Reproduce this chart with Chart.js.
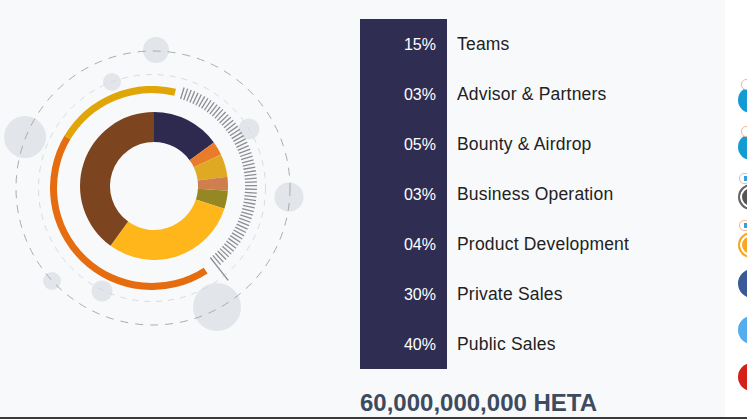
<!DOCTYPE html>
<html lang="en">
<head>
<meta charset="UTF-8">
<title>Token Allocation</title>
<script src="https://cdn.jsdelivr.net/npm/chart.js"></script>
<style>
  html, body { margin: 0; padding: 0; width: 747px; height: 419px; overflow: hidden; background: #fff; }
  #panel { position: absolute; left: 0; top: 0; width: 725px; height: 419px; background: #f8f9fb; }
  #baseline { position: absolute; left: 0; top: 417px; width: 747px; height: 2px; background: #3a3a3a; }
  canvas { position: absolute; }
  #table { position: absolute; left: 360px; top: 19px; width: 360px; font-family: "Liberation Sans", Arial, sans-serif; }
  .row { display: flex; height: 50px; line-height: 50px; }
  .pct { width: 76px; height: 50px; padding-right: 11px; text-align: right; background: #2f2e52; color: #fff; font-size: 16px; line-height: 52px; }
  .name { padding-left: 10px; color: #222; font-size: 17.5px; letter-spacing: .2px; }
  #total { position: absolute; left: 360px; top: 389px; font: bold 24px/28px "Liberation Sans", Arial, sans-serif; color: #3d4b5e; white-space: nowrap; }
  .icon { position: absolute; left: 738px; box-sizing: border-box; border-radius: 50%; }
  .badge { position: absolute; width: 20px; height: 11px; box-sizing: border-box; background: #fff; border: 1px solid #f5b79a; border-radius: 5px; }
  .badge i { position: absolute; left: 4px; top: 2px; width: 4px; height: 5px; background: #3aa0dc; }
</style>
</head>
<body>
<div id="panel"></div>
<canvas id="backdrop" width="330" height="340" style="left:0;top:0"></canvas>
<canvas id="ring" width="204" height="204" style="left:50px;top:86px"></canvas>
<canvas id="donut" width="148" height="148" style="left:80px;top:112px"></canvas>
<div id="table"></div>
<div id="total"></div>
<div id="icons"></div>
<div id="baseline"></div>

<script>
const categories = ['Teams', 'Advisor & Partners', 'Bounty & Airdrop', 'Business Operation', 'Product Development', 'Private Sales', 'Public Sales'];
const shares = [15, 3, 5, 3, 4, 30, 40];
const shareLabels = ['15%', '03%', '05%', '03%', '04%', '30%', '40%'];
const sliceColors = ['#2e2a4f', '#e97c2a', '#e0a923', '#cf7f4e', '#958723', '#ffb61a', '#7d451f'];
const totalLabel = '60,000,000,000 HETA';

// outer arc, in degrees from its start
const ringValues = [133.4, 153.8, 72.8];
const ringColors = ['rgba(0,0,0,0)', '#e56c0f', '#e0a608'];

// grey circles behind the chart
const bubbleX = [156, 112, 25, 249, 289, 217, 102, 52];
const bubbleY = [50, 82, 137, 129, 197, 307, 291, 281];
const bubbleR = [13, 9, 21, 10.5, 14.5, 24, 10.5, 9];

// clipped icons on the right edge
const iconY = [100, 147, 197, 245, 283, 330, 377];
const iconSize = [26, 26, 26, 26, 29, 28, 28];
const iconStyle = [
  'background:#139bd3',
  'background:#139bd3',
  'background:#555;border:2px solid #666;box-shadow:inset 0 0 0 2px #fff',
  'background:#f7a823;border:2px solid #f7a823;box-shadow:inset 0 0 0 2px #fff',
  'background:#3b5998',
  'background:#55acee',
  'background:#d3211a'
];
const badgeX = [741, 741, 739, 739];
const badgeY = [79, 126, 173, 220];
const badgeMark = ['', '', '<i></i>', '<i></i>'];

document.getElementById('table').innerHTML = categories.map((c, i) =>
  '<div class="row"><div class="pct">' + shareLabels[i] + '</div><div class="name">' + c.replace('&', '&amp;') + '</div></div>').join('');
document.getElementById('total').textContent = totalLabel;
document.getElementById('icons').innerHTML =
  iconY.map((y, i) => '<div class="icon" style="top:' + (y - iconSize[i] / 2) + 'px;width:' + iconSize[i] + 'px;height:' + iconSize[i] + 'px;' + iconStyle[i] + '"></div>').join('') +
  badgeY.map((y, i) => '<div class="badge" style="left:' + badgeX[i] + 'px;top:' + y + 'px">' + badgeMark[i] + '</div>').join('');

const rad = d => (d - 90) * Math.PI / 180;

// dashed circles and the tick ring, placed through the hidden scales
const decorations = {
  id: 'decorations',
  afterDatasetsDraw(chart) {
    const { ctx, scales } = chart;
    const px = scales.x.getPixelForValue(153), py = scales.y.getPixelForValue(188);
    ctx.save();
    ctx.lineWidth = 1;
    ctx.strokeStyle = '#a9abb1';
    ctx.setLineDash([8, 7]);
    ctx.beginPath(); ctx.arc(px, py, 137, 0, Math.PI * 2); ctx.stroke();
    ctx.strokeStyle = '#d8dade';
    ctx.setLineDash([6, 6]);
    ctx.beginPath(); ctx.arc(px - 1, py, 113.5, 0, Math.PI * 2); ctx.stroke();
    ctx.setLineDash([]);
    const cx = scales.x.getPixelForValue(154), cy = scales.y.getPixelForValue(186);
    ctx.strokeStyle = '#8b8d94';
    ctx.lineWidth = 1.3;
    for (let a = 17; a <= 142; a += 2.08) {
      const r2 = a > 141 ? 120 : 103;
      ctx.beginPath();
      ctx.moveTo(cx + 91 * Math.cos(rad(a)), cy + 91 * Math.sin(rad(a)));
      ctx.lineTo(cx + r2 * Math.cos(rad(a)), cy + r2 * Math.sin(rad(a)));
      ctx.stroke();
    }
    ctx.restore();
  }
};

new Chart(document.getElementById('backdrop'), {
  type: 'bubble',
  data: {
    datasets: [{
      data: bubbleX.map((x, i) => ({ x: x, y: bubbleY[i], r: bubbleR[i] })),
      backgroundColor: '#e2e5e9',
      borderWidth: 0,
      clip: false
    }]
  },
  options: {
    responsive: false,
    animation: false,
    events: [],
    layout: { padding: 0, autoPadding: false },
    plugins: { legend: { display: false }, tooltip: { enabled: false } },
    scales: {
      x: { display: false, min: 0, max: 330 },
      y: { display: false, min: 0, max: 340, reverse: true }
    }
  },
  plugins: [decorations]
});

new Chart(document.getElementById('ring'), {
  type: 'doughnut',
  data: { datasets: [{ data: ringValues, backgroundColor: ringColors, borderWidth: 0 }] },
  options: {
    responsive: false,
    animation: false,
    events: [],
    rotation: 13.6,
    cutout: 95,
    plugins: { legend: { display: false }, tooltip: { enabled: false } }
  }
});

new Chart(document.getElementById('donut'), {
  type: 'doughnut',
  data: { labels: categories, datasets: [{ data: shares, backgroundColor: sliceColors, borderWidth: 0 }] },
  options: {
    responsive: false,
    animation: false,
    events: [],
    cutout: 44,
    plugins: { legend: { display: false }, tooltip: { enabled: false } }
  }
});
</script>
</body>
</html>
